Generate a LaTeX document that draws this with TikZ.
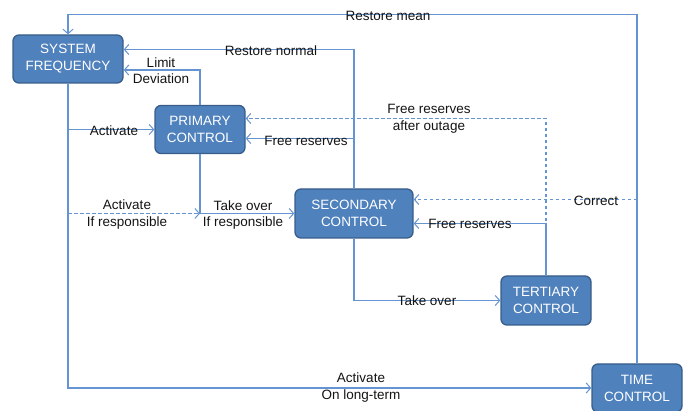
\documentclass[tikz,border=0pt]{standalone}
\usepackage{fontspec}
\setmainfont{Liberation Sans}
\usetikzlibrary{arrows.meta,calc}
\definecolor{boxfill}{RGB}{79,129,189}
\definecolor{boxedge}{RGB}{56,93,138}
\definecolor{lnc}{RGB}{100,149,210}
\definecolor{txt}{RGB}{20,20,20}
\tikzset{
  blk/.style={rectangle, rounded corners=6pt, fill=boxfill, draw=boxedge, line width=1.3pt,
    text=white, align=center, inner sep=0pt, font=\fontsize{13.5}{17}\selectfont},
  conn/.style={draw=lnc, line width=1.3pt, -{Straight Barb[length=4.5pt,width=10pt,line width=1pt]}},
  dconn/.style={conn, dash pattern=on 3.5pt off 2.5pt},
  lbl/.style={text=txt, align=center, inner sep=0pt, font=\fontsize{13.5}{16.5}\selectfont}
}
\begin{document}
\begin{tikzpicture}[x=1pt,y=-1pt]
\useasboundingbox (0,0) rectangle (686,411);
% boxes
\node[blk, minimum width=110pt, minimum height=48pt] (sf) at (68,59) {SYSTEM\\FREQUENCY};
\node[blk, minimum width=90pt, minimum height=48pt] (pc) at (200,129.5) {PRIMARY\\CONTROL};
\node[blk, minimum width=118pt, minimum height=49pt] (sc) at (354,213.5) {SECONDARY\\CONTROL};
\node[blk, minimum width=90pt, minimum height=49pt] (tc) at (546,300.5) {TERTIARY\\CONTROL};
\node[blk, minimum width=90pt, minimum height=48pt] (tm) at (637,388) {TIME\\CONTROL};
% helper coordinates
\coordinate (rmtop) at (68,14.5);
\coordinate (sfrn) at ([yshift=9.5pt]sf.east);
\coordinate (sfld) at ([yshift=-11pt]sf.east);
\coordinate (pcfr) at ([yshift=-9pt]pc.east);
\coordinate (pcfo) at ([yshift=11pt]pc.east);
\coordinate (scco) at ([yshift=14pt]sc.east);
\coordinate (scfr) at ([yshift=-10pt]sc.east);
% connectors
\draw[conn] (tm.north) |- (rmtop) -- (sf.north);
\draw[conn] (sc.north) |- (sfrn);
\draw[conn] (pc.north) |- (sfld);
\draw[conn] (sf.south) |- (pc.west);
\draw[conn] (sf.south) |- (tm.west);
\draw[dconn] (sf.south |- sc.west) -- (pc.south |- sc.west);
\draw[conn] (pc.south) |- (sc.west);
\draw[conn] (sc.north |- pcfr) -- (pcfr);
\draw[dconn] (tc.north) |- (pcfo);
\draw[conn] (tc.north) |- (scfr);
\draw[dconn] (tm.north |- scco) -- (scco);
\draw[conn] (sc.south) |- (tc.west);
% labels
\node[lbl] at (388,16) {Restore mean};
\node[lbl] at (271,50.5) {Restore normal};
\node[lbl] at (161,70.5) {Limit\\Deviation};
\node[lbl] at (114,131) {Activate};
\node[lbl] at (127,214.5) {Activate\\If responsible};
\node[lbl] at (243,215) {Take over\\If responsible};
\node[lbl] at (306,140.5) {Free reserves};
\node[lbl] at (429,119) {Free reserves\\after outage};
\node[lbl] at (596,200.5) {Correct};
\node[lbl] at (470,223.5) {Free reserves};
\node[lbl] at (427,300.5) {Take over};
\node[lbl] at (361,387.5) {Activate\\On long-term};
\end{tikzpicture}
\end{document}
